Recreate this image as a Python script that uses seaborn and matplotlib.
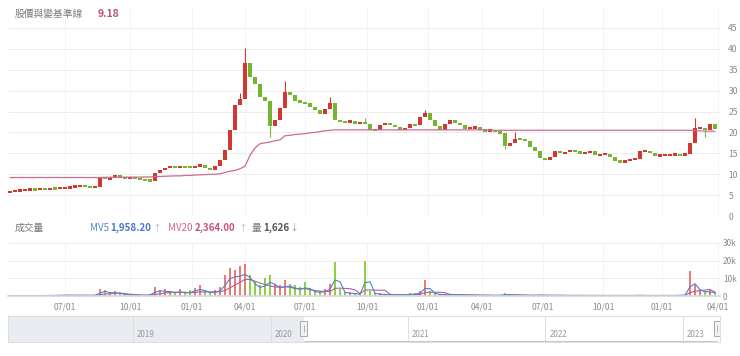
import numpy as np
import pandas as pd
import seaborn as sns
import matplotlib.pyplot as plt
from matplotlib.patches import Rectangle

# Weekly closes, Apr 2020 - Mar 2023
close = [
    5.8, 6.0, 6.2, 6.3, 6.4, 6.35, 6.5, 6.45, 6.6, 6.55,
    6.7, 6.8, 6.9, 7.2, 7.3, 7.0, 6.8, 7.0, 9.2, 8.9,
    9.1, 9.8, 9.2, 9.0, 9.2, 9.0, 8.7, 8.6, 8.4, 10.4,
    11.0, 11.5, 11.9, 11.7, 11.9, 11.7, 11.6, 12.0, 12.1, 11.6,
    11.0, 11.9, 13.4, 15.7, 20.5, 26.5, 28.0, 36.5, 33.2, 31.5,
    28.4, 27.5, 21.5, 23.0, 25.8, 29.6, 29.0, 27.6, 27.2, 27.0,
    26.0, 25.3, 24.4, 25.6, 27.0, 22.9, 22.6, 22.4, 22.8, 22.0,
    22.4, 22.0, 20.6, 20.5, 21.8, 22.3, 21.8, 21.2, 20.7, 21.0,
    21.9, 21.8, 23.6, 24.6, 23.0, 21.6, 20.5, 22.1, 23.0, 22.3,
    21.8, 20.9, 21.1, 21.2, 20.5, 20.4, 20.5, 20.1, 19.8, 16.7,
    17.5, 18.5, 18.4, 18.0, 16.5, 15.6, 13.8, 13.4, 14.1, 15.5,
    15.1, 15.2, 15.8, 15.4, 15.0, 15.0, 15.6, 14.6, 14.7, 14.9,
    14.0, 13.2, 12.9, 13.2, 13.5, 13.7, 15.5, 15.6, 15.1, 14.4,
    14.5, 14.6, 14.7, 14.7, 14.6, 14.8, 17.5, 21.0, 21.0, 20.5,
    21.9, 20.8,
]
first_open = 5.7

# wicks that stick out of the bodies
spike_idx = [46, 47, 55, 64, 71, 83, 101, 137]
spike_hi = [29.5, 40.3, 32.4, 28.5, 23.5, 25.3, 20.1, 23.5]
low_idx = [52, 99, 139]
spike_lo = [19.0, 16.0, 19.0]

# pink baseline
baseline = [
    9.2, 9.2, 9.2, 9.2, 9.2, 9.2, 9.2, 9.2, 9.2, 9.2,
    9.2, 9.2, 9.2, 9.2, 9.2, 9.2, 9.2, 9.2, 9.2, 9.25,
    9.25, 9.25, 9.3, 9.3, 9.3, 9.3, 9.3, 9.35, 9.35, 9.4,
    9.45, 9.5, 9.55, 9.6, 9.6, 9.7, 9.7, 9.8, 9.85, 9.9,
    9.95, 10.0, 10.1, 10.4, 10.7, 10.9, 11.3, 11.9, 14.5, 16.3,
    17.3, 17.5, 17.7, 18.0, 18.2, 19.2, 19.3, 19.5, 19.6, 19.7,
    19.9, 20.0, 20.2, 20.4, 20.5, 20.6, 20.6, 20.6, 20.6, 20.6,
    20.6, 20.6, 20.6, 20.6, 20.6, 20.6, 20.6, 20.6, 20.6, 20.6,
    20.6, 20.6, 20.6, 20.6, 20.6, 20.6, 20.6, 20.6, 20.6, 20.6,
    20.6, 20.6, 20.6, 20.6, 20.6, 20.6, 20.5, 20.5, 20.5, 20.5,
    20.5, 20.5, 20.5, 20.5, 20.5, 20.5, 20.5, 20.5, 20.5, 20.5,
    20.5, 20.5, 20.5, 20.5, 20.5, 20.5, 20.5, 20.5, 20.5, 20.5,
    20.5, 20.5, 20.5, 20.5, 20.5, 20.5, 20.5, 20.5, 20.5, 20.5,
    20.5, 20.5, 20.5, 20.5, 20.5, 20.5, 20.5, 20.4, 20.4, 20.3,
    20.3, 20.3,
]

# volume in thousands of shares
volume_k = [
    0.3, 0.3, 0.3, 0.3, 0.3, 0.3, 0.4, 0.4, 0.4, 0.5,
    0.6, 0.8, 0.6, 0.5, 0.6, 0.5, 0.5, 0.6, 4.0, 3.5,
    2.0, 3.0, 1.5, 1.0, 0.8, 0.7, 0.6, 0.6, 1.0, 5.0,
    3.5, 4.0, 3.0, 2.5, 4.0, 2.0, 3.5, 4.5, 6.0, 3.0,
    2.5, 3.5, 5.0, 12.0, 16.0, 15.0, 17.0, 18.0, 12.0, 8.0,
    6.0, 10.0, 12.0, 7.0, 6.0, 9.0, 7.0, 6.0, 5.0, 8.0,
    4.0, 3.0, 3.0, 4.0, 7.0, 19.0, 4.0, 2.0, 2.5, 1.5,
    1.5, 20.0, 3.0, 1.5, 1.5, 1.0, 1.0, 1.0, 0.8, 1.0,
    1.5, 1.5, 3.0, 9.0, 3.0, 1.5, 1.0, 1.0, 1.0, 1.2,
    1.0, 0.8, 0.8, 0.7, 0.6, 0.6, 0.5, 0.5, 0.6, 1.5,
    0.8, 1.0, 0.6, 0.6, 0.5, 0.6, 0.8, 0.5, 0.5, 0.6,
    0.5, 0.4, 0.4, 0.5, 0.4, 0.4, 0.4, 0.5, 0.4, 0.4,
    0.4, 0.5, 0.4, 0.4, 0.4, 0.6, 0.5, 0.4, 0.4, 0.4,
    0.4, 0.4, 0.4, 0.5, 0.6, 0.8, 14.0, 6.0, 4.0, 3.0,
    3.5, 2.0,
]

quarter_pos = [11.0, 24.0, 36.4, 47.0, 59.0, 71.4, 83.6, 94.4, 106.6, 118.6, 130.4, 141.6]
quarter_labels = ['07/01', '10/01', '01/01', '04/01', '07/01', '10/01',
                  '01/01', '04/01', '07/01', '10/01', '01/01', '04/01']
price_ticks = [0, 5, 10, 15, 20, 25, 30, 35, 40, 45]
vol_ticks = [0, 10, 20, 30]
vol_tick_labels = ['0', '10k', '20k', '30k']
nav_years = [2019, 2020, 2021, 2022, 2023]
nav_range = (2018.09, 2023.27)
nav_sel = (2020.24, 2023.25)

UP, DOWN = '#d2382f', '#74b632'
PINK = '#cf6a93'
GRID = '#ededed'
LABEL = '#8a8a8a'

df = pd.DataFrame({'x': np.arange(len(close)), 'close': close,
                   'base': baseline, 'vol': volume_k})
df['open'] = [first_open] + close[:-1]
df['up'] = df['close'] >= df['open']
df['color'] = np.where(df['up'], UP, DOWN)
df['vcolor'] = np.where(df['up'], '#ee7a76', '#8fd045')
mid = (df['close'] + df['open']) / 2
body = (df['close'] - df['open']).abs().clip(lower=0.55)
bottom = mid - body / 2
df['mv5'] = df['vol'].rolling(2, min_periods=1).mean() * 0.7
df['mv20'] = df['vol'].rolling(5, min_periods=1).mean() * 0.6

sns.set_theme(style="white")
plt.rcParams['font.family'] = ['Noto Sans CJK TC', 'DejaVu Sans']

W, H = 740, 356
fig = plt.figure(figsize=(W / 100, H / 100), dpi=100)


def box(l, t, r, b):
    return [l / W, 1 - b / H, (r - l) / W, (b - t) / H]


ax_p = fig.add_axes(box(8, 7, 720, 216))
ax_v = fig.add_axes(box(8, 243, 720, 296))
ax_n = fig.add_axes(box(8, 316, 720, 342))
xlim = (-0.4, 142.0)

# price panel
ax_p.bar(df['x'], body, bottom=bottom, width=0.95, color=df['color'], linewidth=0)
for i, hi in zip(spike_idx, spike_hi):
    ax_p.vlines(i, max(df['open'][i], df['close'][i]), hi, color=df['color'][i], lw=0.8)
for i, lo in zip(low_idx, spike_lo):
    ax_p.vlines(i, lo, min(df['open'][i], df['close'][i]), color=df['color'][i], lw=0.8)
sns.lineplot(data=df, x='x', y='base', ax=ax_p, color=PINK, linewidth=0.9)
ax_p.set_ylim(0, 50)
ax_p.set_yticks(price_ticks)

# volume panel
ax_v.bar(df['x'], df['vol'], width=0.3, color=df['vcolor'], linewidth=0)
sns.lineplot(data=df, x='x', y='mv20', ax=ax_v, color='#a9639e', linewidth=0.8)
sns.lineplot(data=df, x='x', y='mv5', ax=ax_v, color='#4f82d3', linewidth=0.8)
ax_v.set_ylim(0, 30)
ax_v.set_yticks(vol_ticks)
ax_v.set_yticklabels(vol_tick_labels)

for ax in (ax_p, ax_v):
    ax.set_xlim(*xlim)
    ax.set_xticks(quarter_pos)
    ax.yaxis.tick_right()
    ax.grid(True, axis='y', color=GRID, linewidth=0.7)
    ax.grid(True, axis='x', color='#f4f4f4', linewidth=0.7)
    ax.set_axisbelow(True)
    ax.set_xlabel('')
    ax.set_ylabel('')
    for s in ax.spines.values():
        s.set_visible(False)
    ax.tick_params(axis='x', length=0, pad=5, labelsize=6.2, labelcolor=LABEL)
ax_p.tick_params(axis='y', length=0, pad=6, labelsize=6.2, labelcolor=LABEL)
ax_v.tick_params(axis='y', length=0, pad=2, labelsize=6.0, labelcolor=LABEL)
ax_p.set_xticklabels([])
ax_v.set_xticklabels(quarter_labels)
ax_v.spines['bottom'].set_visible(True)
ax_v.spines['bottom'].set_color('#d8d8d8')

# navigator
ax_n.set_xlim(*nav_range)
ax_n.set_ylim(0, 1)
ax_n.set_xticks([])
ax_n.set_yticks([])
for s in ax_n.spines.values():
    s.set_color('#dddddd')
    s.set_linewidth(0.7)
ax_n.axvspan(nav_range[0], nav_sel[0], color='#e9ecf0', lw=0)
ax_n.vlines(nav_years, 0, 1, color='#dedede', lw=0.7)
for yr in nav_years:
    ax_n.text(yr + 0.03, 0.18, str(yr), fontsize=5.8, color='#999999')
ax_n.hlines(0.02, nav_sel[0], nav_sel[1], color='#c8c8c8', lw=0.8)
for hx in nav_sel:
    ax_n.add_patch(Rectangle((hx - 0.022, 0.25), 0.044, 0.55, facecolor='#f2f2f2',
                             edgecolor='#aaaaaa', lw=0.7, zorder=5))
    ax_n.vlines(hx, 0.38, 0.67, color='#999999', lw=0.5, zorder=6)

# header texts
ty = 1 - 14 / H
fig.text(15 / W, ty, '股價與變基準線', fontsize=7, color='#7a7a7a', va='center')
fig.text(98 / W, ty, '9.18', fontsize=7.5, color='#c0507a', va='center', fontweight='bold')

vy = 1 - 228 / H
fig.text(15 / W, vy, '成交量', fontsize=7, color='#7a7a7a', va='center')
fig.text(90 / W, vy, 'MV5', fontsize=7, color='#5a84cc', va='center')
fig.text(110 / W, vy, '1,958.20', fontsize=7, color='#4a78c8', va='center', fontweight='bold')
fig.text(153 / W, vy, '↑', fontsize=6.5, color='#aab8d8', va='center')
fig.text(168 / W, vy, 'MV20', fontsize=7, color='#d0668f', va='center')
fig.text(195 / W, vy, '2,364.00', fontsize=7, color='#c9557f', va='center', fontweight='bold')
fig.text(239 / W, vy, '↑', fontsize=6.5, color='#e0aac0', va='center')
fig.text(252 / W, vy, '量', fontsize=7, color='#7a7a7a', va='center')
fig.text(263 / W, vy, '1,626', fontsize=7, color='#555555', va='center', fontweight='bold')
fig.text(290 / W, vy, '↓', fontsize=6.5, color='#999999', va='center')

fig.savefig('out.png', dpi=100)
